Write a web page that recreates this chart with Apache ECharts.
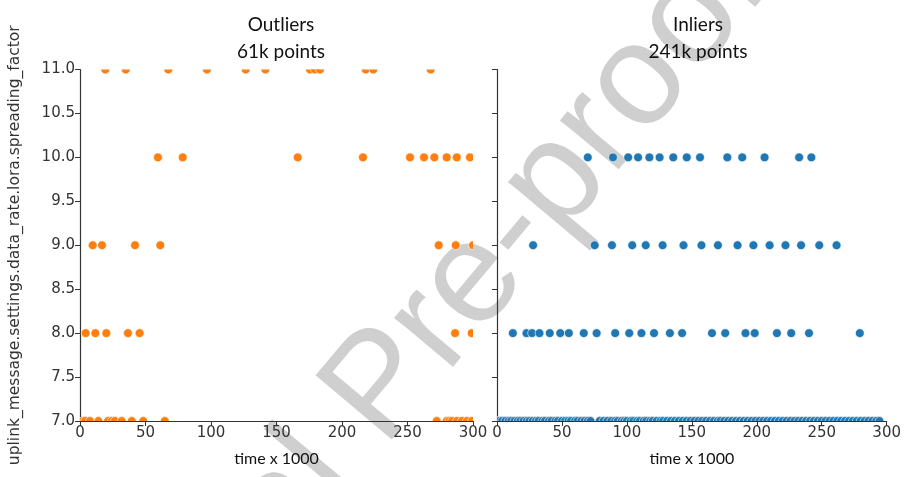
<!DOCTYPE html>
<html>
<head>
<meta charset="utf-8">
<script src="https://cdn.jsdelivr.net/npm/echarts@6/dist/echarts.min.js"></script>
<style>html,body{margin:0;padding:0;background:#fff}#c{width:904px;height:477px}</style>
</head>
<body>
<div id="c"></div>
<script>
// ---- data (time x 1000 for each spreading factor row) ----
const xTicks = [0, 50, 100, 150, 200, 250, 300];
const yTicks = [7.0, 7.5, 8.0, 8.5, 9.0, 9.5, 10.0, 10.5, 11.0];

// Outliers (61k points)
const out11 = [19.3, 34.9, 67.4, 96.9, 126.5, 141.5, 175.6, 179.4, 183.2, 218.1, 223.9, 267.7];
const out10 = [59.5, 78.4, 166.2, 216, 251.9, 262.6, 270.5, 279.9, 287.6, 297.7];
const out9  = [9.7, 16.8, 42, 61.3, 273.8, 286.8, 300];
const out8  = [4.3, 11.7, 20.1, 36.6, 45.5, 286.3, 299];
const out7  = [2.3, 4, 7.6, 14, 21.4, 24.4, 26.7, 31.8, 39.5, 48.3, 64.7, 272.3, 279.9, 282, 284, 287.8, 291.6, 295.4, 299.2];

// Inliers (241k points)
const in10 = [69.9, 89.3, 101, 108.6, 117.3, 125.2, 135.7, 146.1, 156.3, 177.3, 188.8, 206, 232.6, 242];
const in9  = [27.8, 75.2, 88.5, 104.1, 114.5, 127.5, 143.6, 157.4, 170.1, 185.2, 197.4, 209.9, 222.1, 234.1, 248.1, 261.4];
const in8  = [12.2, 22.7, 27, 32.7, 40.6, 48.7, 55.3, 66.8, 76.7, 91, 101.8, 111.2, 120.9, 133.1, 142.5, 165.5, 175.7, 191.3, 198.4, 215.5, 226.5, 240.2, 279.3];
const in7  = [0.5, 2, 4, 6.5, 9, 11, 13.5, 16, 18, 20.5, 23, 25, 27.5, 30, 32, 35, 37, 40, 42, 45, 47, 50, 52.5, 55, 57, 60, 62, 65, 67.5, 70, 72,
              79, 82, 85, 88, 91, 93, 96, 98, 100, 103, 105, 108, 110, 113, 115, 118, 120, 123, 126, 128, 131, 134, 137, 140, 143, 146, 149,
              152, 155, 158, 161, 164, 167, 170, 172, 175, 178, 181, 184, 187, 190, 193, 196, 199, 202, 205, 208, 211, 214, 217, 220, 223,
              226, 229, 232, 235, 238, 241, 244, 247, 250, 253, 256, 259, 262, 265, 268, 271, 274, 277, 280, 283, 286, 289, 292, 294.5];

const titles = ['Outliers\n61k points', 'Inliers\n241k points'];
const xName = 'time x 1000';
const yName = 'uplink_message.settings.data_rate.lora.spreading_factor';

function rows(list) {
  const pts = [];
  list.forEach(([y, xs]) => xs.forEach(x => pts.push([x, y])));
  return pts;
}
const outData = rows([[11, out11], [10, out10], [9, out9], [8, out8], [7, out7]]);
const inData  = rows([[10, in10], [9, in9], [8, in8], [7, in7]]);

const chart = echarts.init(document.getElementById('c'), null, {renderer: 'canvas'});
const tickFont = 'DejaVu Sans';
const axisCol = '#333';

function xAxis(gi) {
  return {
    gridIndex: gi, type: 'value', min: 0, max: 300, interval: 50,
    name: xName, nameLocation: 'middle', nameGap: 30,
    nameTextStyle: {fontFamily: 'Lato', fontSize: 16, color: '#111'},
    axisLine: {onZero: false, lineStyle: {color: axisCol, width: 1.2}},
    axisTick: {show: true, length: 5, lineStyle: {color: axisCol}},
    axisLabel: {fontFamily: tickFont, fontSize: 15, color: '#333', margin: 5},
    splitLine: {show: false}
  };
}
function yAxis(gi, labels) {
  return {
    gridIndex: gi, type: 'value', min: 7, max: 11, interval: 0.5,
    name: labels ? yName : '', nameLocation: 'middle', nameGap: 57,
    nameTextStyle: {fontFamily: tickFont, fontSize: 15.5, color: '#333'},
    axisLine: {show: true, onZero: false, lineStyle: {color: axisCol, width: 1.2}},
    axisTick: {show: true, length: 5, lineStyle: {color: axisCol}},
    axisLabel: {show: labels, fontFamily: tickFont, fontSize: 15, color: '#333', margin: 5,
                formatter: v => v.toFixed(1)},
    splitLine: {show: false}
  };
}
function dotSeries(gi, data, color) {
  return {
    type: 'custom', xAxisIndex: gi, yAxisIndex: gi, clip: true, z: 2,
    data: data,
    renderItem: function (params, api) {
      const p = api.coord([api.value(0), api.value(1)]);
      return {type: 'circle', shape: {cx: p[0], cy: p[1], r: 4.4},
              style: {fill: color, stroke: '#fff', lineWidth: 0.6}};
    }
  };
}

chart.setOption({
  backgroundColor: '#fff',
  animation: false,
  title: [
    {text: titles[0], left: 276, top: 6, textAlign: 'center',
     textStyle: {fontFamily: 'Lato', fontSize: 19, fontWeight: 'normal', color: '#111', lineHeight: 27}},
    {text: titles[1], left: 693, top: 6, textAlign: 'center',
     textStyle: {fontFamily: 'Lato', fontSize: 19, fontWeight: 'normal', color: '#111', lineHeight: 27}}
  ],
  grid: [
    {left: 80, right: 904 - 473, top: 69.5, bottom: 477 - 421},
    {left: 497, right: 904 - 889, top: 69.5, bottom: 477 - 421}
  ],
  xAxis: [xAxis(0), xAxis(1)],
  yAxis: [yAxis(0, true), yAxis(1, false)],
  series: [dotSeries(0, outData, '#ff7f0e'), dotSeries(1, inData, '#1f77b4')],
  graphic: [{
    type: 'group', x: 392, y: 455, rotation: 50 * Math.PI / 180, z: -10, silent: true,
    children: [
      {type: 'text', x: 0, y: -50, z: -10,
       style: {text: 'Pre-proof', font: '145px "Liberation Sans"', fill: '#cfcfcf',
               textAlign: 'left', textVerticalAlign: 'middle'}},
      {type: 'text', x: -40, y: -50, z: -10,
       style: {text: 'Journal', font: '145px "Liberation Sans"', fill: '#cfcfcf',
               textAlign: 'right', textVerticalAlign: 'middle'}}
    ]
  }]
});
</script>
</body>
</html>
